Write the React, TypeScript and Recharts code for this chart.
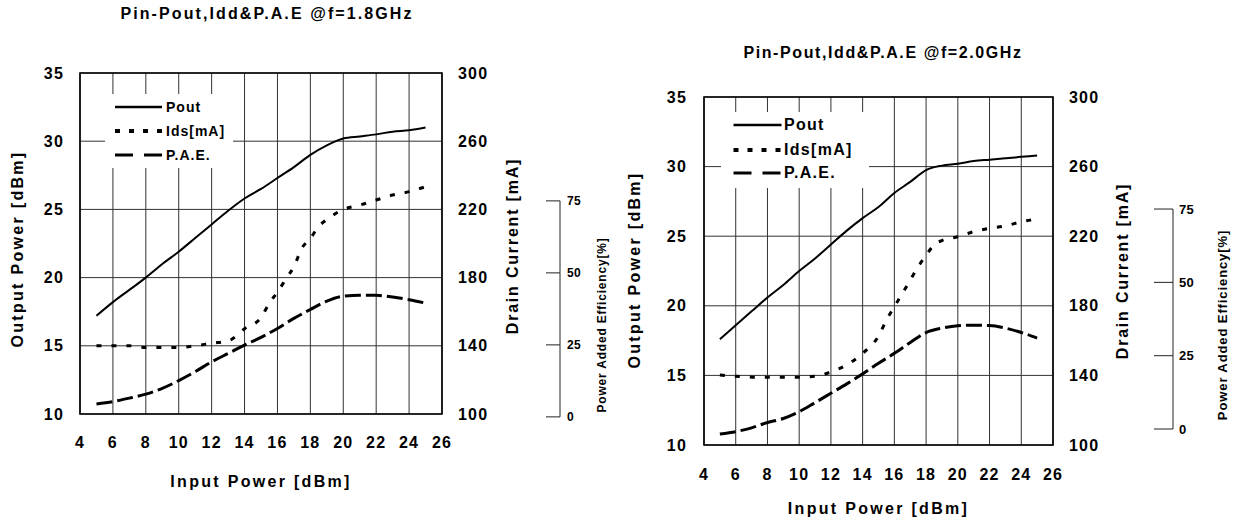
import React from 'react';
import { LineChart, Line, XAxis, YAxis, CartesianGrid, ReferenceArea, Legend } from 'recharts';

const FONT = '"Liberation Sans", Arial, Helvetica, sans-serif';

// ---- data ----
const pin18 = [5, 6, 7, 8, 9, 10, 11, 12, 13, 14, 15, 16, 17, 18, 19, 20, 21, 22, 23, 24, 25];
const pout18 = [17.2, 18.2, 19.1, 20.0, 21.0, 21.9, 22.9, 23.9, 24.9, 25.8, 26.5, 27.3, 28.1, 29.0, 29.7, 30.2, 30.35, 30.5, 30.7, 30.8, 31.0];
const idsPin18 = [5, 6, 7, 8, 9, 10, 11, 12, 13, 14, 15, 15.5, 16, 16.5, 17, 17.5, 18, 18.5, 19, 20, 21, 22, 23, 24, 25];
const ids18 = [140, 140, 140, 139, 139, 139, 140, 141.5, 142.8, 150, 156.5, 165, 171.5, 179, 186.5, 197.5, 203, 210, 214, 220, 222.5, 225.5, 228.4, 230.4, 233.3];
const pae18 = [4.5, 5.3, 6.5, 7.9, 9.9, 12.6, 15.7, 19.1, 22.0, 24.9, 27.6, 30.7, 34.2, 37.3, 40.2, 41.9, 42.2, 42.2, 41.6, 40.7, 39.5];

const pin20 = [5, 6, 7, 8, 9, 10, 11, 12, 13, 14, 15, 16, 17, 18, 19, 20, 21, 22, 23, 24, 25];
const pout20 = [17.6, 18.6, 19.6, 20.6, 21.5, 22.5, 23.4, 24.4, 25.4, 26.3, 27.1, 28.1, 28.9, 29.75, 30.07, 30.2, 30.4, 30.5, 30.6, 30.7, 30.8];
const idsPin20 = [5, 6, 7, 8, 9, 10, 11, 12, 13, 14, 15, 15.5, 16, 16.5, 17, 17.5, 18, 18.5, 19, 20, 21, 22, 23, 24, 25];
const ids20 = [140.2, 139.5, 139, 139, 139, 139, 139.5, 142, 146, 152.7, 162.6, 171.8, 179.5, 187, 194.8, 202.5, 209, 215, 217.5, 219.7, 222.6, 224.5, 225.9, 228.3, 229.7];
const pae20 = [-1.7, -0.9, 0.4, 2.2, 3.6, 5.9, 9.0, 12.2, 15.4, 18.8, 22.4, 25.8, 29.5, 32.9, 34.4, 35.2, 35.4, 35.3, 34.4, 32.9, 31.0];

const xTicks = [4, 6, 8, 10, 12, 14, 16, 18, 20, 22, 24, 26];
const powerTicks = [10, 15, 20, 25, 30, 35];
const currentTicks = [100, 140, 180, 220, 260, 300];
const paeTicks = [0, 25, 50, 75];

const seriesNames = ['Pout', 'Ids[mA]', 'P.A.E.'];

const zip = (xs: number[], ys: number[]) => xs.map((x, i) => ({ x, y: ys[i] }));

// line looks per series (plot / legend)
const LOOK: Record<string, any> = {
  'Pout': { w: 2, dash: undefined, lw: 2.5, ldash: undefined },
  'Ids[mA]': { w: 3, dash: '5 10', lw: 4, ldash: '5 9' },
  'P.A.E.': { w: 3, dash: '16 5', lw: 3, ldash: '18 11' },
};

const VTitle = (props: any) => {
  const { viewBox, text, ox, oy, size, ls } = props;
  const cx = viewBox.x + ox;
  const cy = viewBox.y + viewBox.height / 2 + oy;
  return (
    <text x={cx} y={cy} transform={`rotate(-90 ${cx} ${cy})`} textAnchor="middle" dominantBaseline="central"
      fill="#000" style={{ fontSize: size, fontWeight: 700, letterSpacing: ls, fontFamily: FONT }}>
      {text}
    </text>
  );
};

const HTitle = (props: any) => {
  const { viewBox, text, oy, size, ls } = props;
  const cx = viewBox.x + viewBox.width / 2;
  const cy = viewBox.y + oy;
  return (
    <text x={cx} y={cy} textAnchor="middle" dominantBaseline="central" fill="#000"
      style={{ fontSize: size, fontWeight: 700, letterSpacing: ls, fontFamily: FONT }}>
      {text}
    </text>
  );
};

const PaeTick = (props: any) => {
  const { x, y, payload, step, len, size, gap } = props;
  const v = payload.value;
  return (
    <g>
      <line x1={x - len} x2={x} y1={y} y2={y} stroke="#222" strokeWidth={1} />
      {v > 0 && <line x1={x} x2={x} y1={y} y2={y + step} stroke="#222" strokeWidth={1} />}
      <text x={x + gap} y={y} dominantBaseline="central" fill="#000"
        style={{ fontSize: size, fontWeight: 700, letterSpacing: 0.3, fontFamily: FONT }}>
        {v}
      </text>
    </g>
  );
};

function PaChart({ cfg, pin, pout, idsPin, ids, pae }: any) {
  const plotH = cfg.plotBottom - cfg.plotTop;
  const paeStep = (25 / (cfg.paeDomain[1] - cfg.paeDomain[0])) * plotH;
  const lines = [
    { name: seriesNames[0], axis: 'power', data: zip(pin, pout) },
    { name: seriesNames[1], axis: 'current', data: zip(idsPin, ids) },
    { name: seriesNames[2], axis: 'pae', data: zip(pin, pae) },
  ];
  const tick = { fill: '#000', fontSize: 16, fontWeight: 700 };
  const lg = cfg.legend;

  const renderLegend = (p: any) => {
    // keep the series order (the library sorts entries by name)
    const items = [...(p.payload ?? [])].sort(
      (a: any, b: any) => seriesNames.indexOf(a.value) - seriesNames.indexOf(b.value),
    );
    return (
      <div style={{ position: 'relative', width: lg.w, height: lg.h, background: '#fff' }}>
        {items.map((e: any, i: number) => {
          const look = LOOK[e.value] ?? LOOK['Pout'];
          return (
            <div key={e.value} style={{ position: 'absolute', left: 0, top: lg.rows[i] - 10, width: lg.w, height: 20 }}>
              <svg width={lg.line[1] + 2} height={20} style={{ position: 'absolute', left: 0, top: 0 }}>
                <line x1={lg.line[0]} x2={lg.line[1]} y1={10} y2={10} stroke="#000"
                  strokeWidth={look.lw} strokeDasharray={look.ldash} />
              </svg>
              <span style={{ position: 'absolute', left: lg.textX, top: 0, lineHeight: '20px', fontSize: lg.size, letterSpacing: lg.ls, color: '#000', whiteSpace: 'nowrap' }}>
                {e.value}
              </span>
            </div>
          );
        })}
      </div>
    );
  };

  return (
    <div style={{ position: 'absolute', left: cfg.left, top: 0, width: cfg.width, height: 522 }}>
      <div style={{ position: 'absolute', left: cfg.title.cx - 200, top: cfg.title.cy - 10, width: 400, height: 20, lineHeight: '20px', textAlign: 'center', fontSize: 16, letterSpacing: cfg.title.ls, whiteSpace: 'nowrap' }}>
        {cfg.title.text}
      </div>
      <LineChart width={cfg.width} height={522} margin={{ top: cfg.plotTop, right: 0, bottom: 0, left: 0 }}>
        <CartesianGrid yAxisId="power" stroke="#333" strokeWidth={1} />
        <XAxis type="number" dataKey="x" domain={[4, 26]} ticks={xTicks} interval={0} allowDataOverflow
          axisLine={false} tickLine={false} tickSize={0} tickMargin={cfg.xTickMargin}
          height={522 - cfg.plotBottom} tick={tick}
          label={<HTitle text="Input Power [dBm]" oy={cfg.xTitleOy} size={16} ls={2.3} />} />
        <YAxis yAxisId="power" orientation="left" width={cfg.plotLeft} type="number" domain={[10, 35]}
          ticks={powerTicks} interval={0} allowDataOverflow axisLine={false} tickLine={false} tickSize={0}
          tickMargin={cfg.yTickMargin} tick={tick}
          label={<VTitle text="Output Power [dBm]" ox={cfg.outTitle[0]} oy={cfg.outTitle[1]} size={16} ls={2.3} />} />
        <YAxis yAxisId="current" orientation="right" width={cfg.paeAxisX - cfg.plotRight} type="number"
          domain={[100, 300]} ticks={currentTicks} interval={0} allowDataOverflow axisLine={false}
          tickLine={false} tickSize={0} tickMargin={cfg.cTickMargin} tick={tick}
          label={<VTitle text="Drain Current [mA]" ox={cfg.curTitle[0]} oy={cfg.curTitle[1]} size={16} ls={1.8} />} />
        <YAxis yAxisId="pae" orientation="right" width={cfg.width - cfg.paeAxisX} type="number"
          domain={cfg.paeDomain} ticks={paeTicks} interval={0} allowDataOverflow axisLine={false}
          tickLine={false} tickSize={0} tickMargin={0}
          tick={<PaeTick step={paeStep} len={cfg.paeTickLen} size={cfg.paeFont} gap={cfg.paeGap} />}
          label={<VTitle text="Power Added Efficiency[%]" ox={cfg.paeTitle[0]} oy={cfg.paeTitle[1]} size={cfg.paeFont} ls={cfg.paeLs} />} />
        <ReferenceArea yAxisId="power" x1={4} x2={26} y1={10} y2={35} fill="none" stroke="#000" strokeWidth={1.6} />
        {lines.map((l) => (
          <Line key={l.name} name={l.name} data={l.data} dataKey="y" yAxisId={l.axis} type="monotone"
            stroke="#000" strokeWidth={LOOK[l.name].w} strokeDasharray={LOOK[l.name].dash}
            dot={false} activeDot={false} isAnimationActive={false} />
        ))}
        <Legend layout="vertical" align="center" verticalAlign="middle" content={renderLegend}
          wrapperStyle={{ left: lg.left, top: lg.top, width: lg.w, height: lg.h, padding: 0, margin: 0 }} />
      </LineChart>
    </div>
  );
}

const cfg18 = {
  left: 0, width: 620, plotLeft: 80, plotTop: 73, plotRight: 442, plotBottom: 414,
  paeAxisX: 560, paeDomain: [1, 119.4], paeTickLen: 14, paeFont: 12, paeGap: 7, paeLs: 0.8,
  yTickMargin: 16, cTickMargin: 16, xTickMargin: 23, xTitleOy: 67,
  outTitle: [17, 5.5], curTitle: [70, 2.5], paeTitle: [42, 81.5],
  title: { text: 'Pin-Pout,Idd&P.A.E @f=1.8GHz', cx: 267, cy: 14, ls: 2.1 },
  legend: { left: 105, top: 94, w: 128, h: 74, rows: [13, 37, 61], line: [10, 57], textX: 61, size: 14, ls: 1 },
};

const cfg20 = {
  left: 616, width: 620, plotLeft: 88, plotTop: 97, plotRight: 437, plotBottom: 445,
  paeAxisX: 557, paeDomain: [-5.45, 113.2], paeTickLen: 19, paeFont: 13, paeGap: 6, paeLs: 0.9,
  yTickMargin: 17, cTickMargin: 16, xTickMargin: 24, xTitleOy: 63,
  outTitle: [18, -1], curTitle: [69, 0], paeTitle: [49, 54],
  title: { text: 'Pin-Pout,Idd&P.A.E @f=2.0GHz', cx: 267, cy: 53, ls: 1.6 },
  legend: { left: 105, top: 112, w: 148, h: 76, rows: [13, 38, 61], line: [12.5, 60.5], textX: 63, size: 16, ls: 1.3 },
};

export default function App() {
  return (
    <div style={{ position: 'absolute', left: 0, top: 0, width: 1236, height: 522, background: '#fff', overflow: 'hidden', fontFamily: FONT, fontWeight: 700, letterSpacing: '1.2px', color: '#000' }}>
      <PaChart cfg={cfg18} pin={pin18} pout={pout18} idsPin={idsPin18} ids={ids18} pae={pae18} />
      <PaChart cfg={cfg20} pin={pin20} pout={pout20} idsPin={idsPin20} ids={ids20} pae={pae20} />
    </div>
  );
}
